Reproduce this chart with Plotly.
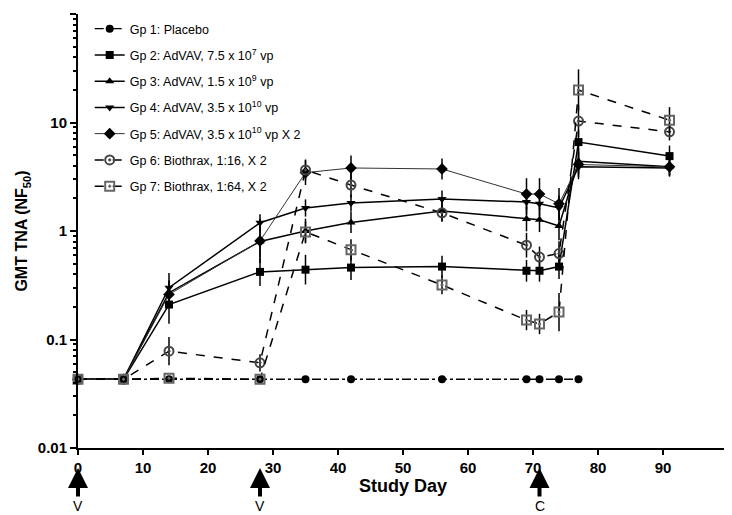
import plotly.graph_objects as go

# ---- data ----
days_full = [0, 7, 14, 28, 35, 42, 56, 69, 71, 74, 77, 91]
days_placebo = [0, 7, 14, 28, 35, 42, 56, 69, 71, 74, 77]

gp1 = [0.043, 0.043, 0.043, 0.043, 0.043, 0.043, 0.043, 0.043, 0.043, 0.043, 0.043]
gp2 = [0.043, 0.043, 0.21, 0.42, 0.44, 0.46, 0.47, 0.43, 0.43, 0.47, 6.6, 4.9]
gp3 = [0.043, 0.043, 0.27, 0.80, 1.0, 1.2, 1.53, 1.29, 1.27, 1.11, 4.4, 3.9]
gp4 = [0.043, 0.043, 0.30, 1.19, 1.63, 1.81, 1.97, 1.85, 1.78, 1.63, 3.9, 3.8]
gp5 = [0.043, 0.043, 0.26, 0.81, 3.45, 3.81, 3.73, 2.19, 2.19, 1.78, 4.1, 3.9]
gp6 = [0.043, 0.043, 0.078, 0.061, 3.65, 2.65, 1.47, 0.74, 0.575, 0.62, 10.3, 8.2]
gp7 = [0.043, 0.043, 0.044, 0.043, 0.98, 0.67, 0.318, 0.151, 0.139, 0.179, 19.9, 10.5]

# multiplicative error factors (bar spans value/f .. value*f)
err2 = [1, 1, 1.5, 1.35, 1.37, 1.3, 1.26, 1.26, 1.26, 1.3, 1.3, 1.25]
err3 = [1, 1, 1.3, 1.4, 1.3, 1.25, 1.25, 1.3, 1.3, 1.35, 1.3, 1.2]
err4 = [1, 1, 1.37, 1.2, 1.2, 1.2, 1.2, 1.3, 1.3, 1.3, 1.3, 1.2]
err5 = [1, 1, 1.3, 1.6, 1.3, 1.3, 1.25, 1.4, 1.4, 1.4, 1.3, 1.2]
err6 = [1, 1, 1.35, 1.2, 1.25, 1.3, 1.2, 1.3, 1.25, 1.3, 1.4, 1.2]
err7 = [1, 1, 1, 1, 1.25, 1.25, 1.22, 1.24, 1.24, 1.5, 1.55, 1.32]

names = [
    "Gp 1: Placebo",
    "Gp 2: AdVAV, 7.5 x 10<sup>7</sup> vp",
    "Gp 3: AdVAV, 1.5 x 10<sup>9</sup> vp",
    "Gp 4: AdVAV, 3.5 x 10<sup>10</sup> vp",
    "Gp 5: AdVAV, 3.5 x 10<sup>10</sup> vp X 2",
    "Gp 6: Biothrax, 1:16, X 2",
    "Gp 7: Biothrax, 1:64, X 2",
]

vacc_days = [0, 28, 71]
vacc_labels = ["V", "V", "C"]

FONT = "Liberation Sans, Arial, sans-serif"

fig = go.Figure()


def err_arrays(vals, fac):
    plus = [v * f - v for v, f in zip(vals, fac)]
    minus = [v - v / f for v, f in zip(vals, fac)]
    return plus, minus


fig.add_trace(go.Scatter(
    x=days_placebo, y=gp1, name=names[0], mode="lines+markers",
    line=dict(color="black", width=1.3, dash="dashdot"),
    marker=dict(symbol="circle", size=8, color="black"),
    cliponaxis=False, legendgroup="g1",
))

specs = [
    (gp2, err2, names[1], "square", "black", 8, "solid", 1.5, "black", "g2"),
    (gp3, err3, names[2], "triangle-up", "black", 8, "solid", 1.5, "black", "g3"),
    (gp4, err4, names[3], "triangle-down", "black", 8, "solid", 1.5, "black", "g4"),
    (gp5, err5, names[4], "diamond", "black", 9, "solid", 1.0, "#333333", "g5"),
    (gp6, err6, names[5], "circle-open-dot", "#444444", 9, "dash", 1.5, "black", "g6"),
    (gp7, err7, names[6], "square-open-dot", "#666666", 9, "dash", 1.5, "black", "g7"),
]

for vals, fac, nm, sym, mcol, msz, dash, lw, lcol, grp in specs:
    plus, minus = err_arrays(vals, fac)
    fig.add_trace(go.Scatter(
        x=days_full, y=vals, name=nm, mode="lines+markers",
        line=dict(color=lcol, width=lw, dash=dash),
        marker=dict(symbol=sym, size=msz, color=mcol,
                    line=dict(width=2 if "open" in sym else 0, color=mcol)),
        error_y=dict(type="data", symmetric=False, array=plus, arrayminus=minus,
                     width=0, thickness=1.5, color="black"),
        cliponaxis=False, legendgroup=grp,
    ))

for d, lab in zip(vacc_days, vacc_labels):
    fig.add_annotation(
        x=d, xref="x", y=(440 - 460) / 434, yref="paper",
        text=lab, showarrow=True, ax=0, ay=38,
        arrowhead=2, arrowsize=1.0, arrowwidth=4, arrowcolor="black",
        font=dict(family=FONT, size=14, color="black"),
    )

fig.update_layout(
    width=732, height=515,
    margin=dict(l=70, r=12, t=6, b=75),
    paper_bgcolor="white", plot_bgcolor="white",
    font=dict(family=FONT, color="black"),
    showlegend=True,
    legend=dict(
        x=0.018, y=1.0, xanchor="left", yanchor="top",
        font=dict(family=FONT, size=12.5, color="black"),
        bgcolor="rgba(0,0,0,0)", tracegroupgap=7,
        itemwidth=30,
    ),
    xaxis=dict(
        range=[0, 100], dtick=10, tick0=0,
        showline=True, linecolor="black", linewidth=2,
        ticks="outside", ticklen=5, tickwidth=2, tickcolor="black",
        showgrid=False, zeroline=False,
        tickfont=dict(family=FONT, size=15, color="black", weight="bold"),
        title=dict(text="<b>Study Day</b>", font=dict(family=FONT, size=18), standoff=2),
    ),
    yaxis=dict(
        type="log", range=[-2, 2], dtick=1,
        tickvals=[0.01, 0.1, 1, 10, 100], ticktext=["0.01", "0.1", "1", "10", "100"],
        showline=True, linecolor="black", linewidth=2,
        ticks="outside", ticklen=6, tickwidth=2, tickcolor="black",
        minor=dict(ticks="outside", ticklen=3, tickwidth=1.5, tickcolor="black",
                   tickvals=[m * 10 ** e for e in range(-2, 2) for m in range(2, 10)]),
        showgrid=False, zeroline=False,
        tickfont=dict(family=FONT, size=15, color="black", weight="bold"),
        title=dict(text="<b>GMT TNA (NF<sub>50</sub>)</b>", font=dict(family=FONT, size=16), standoff=6),
    ),
)

fig.write_html("out.html")
